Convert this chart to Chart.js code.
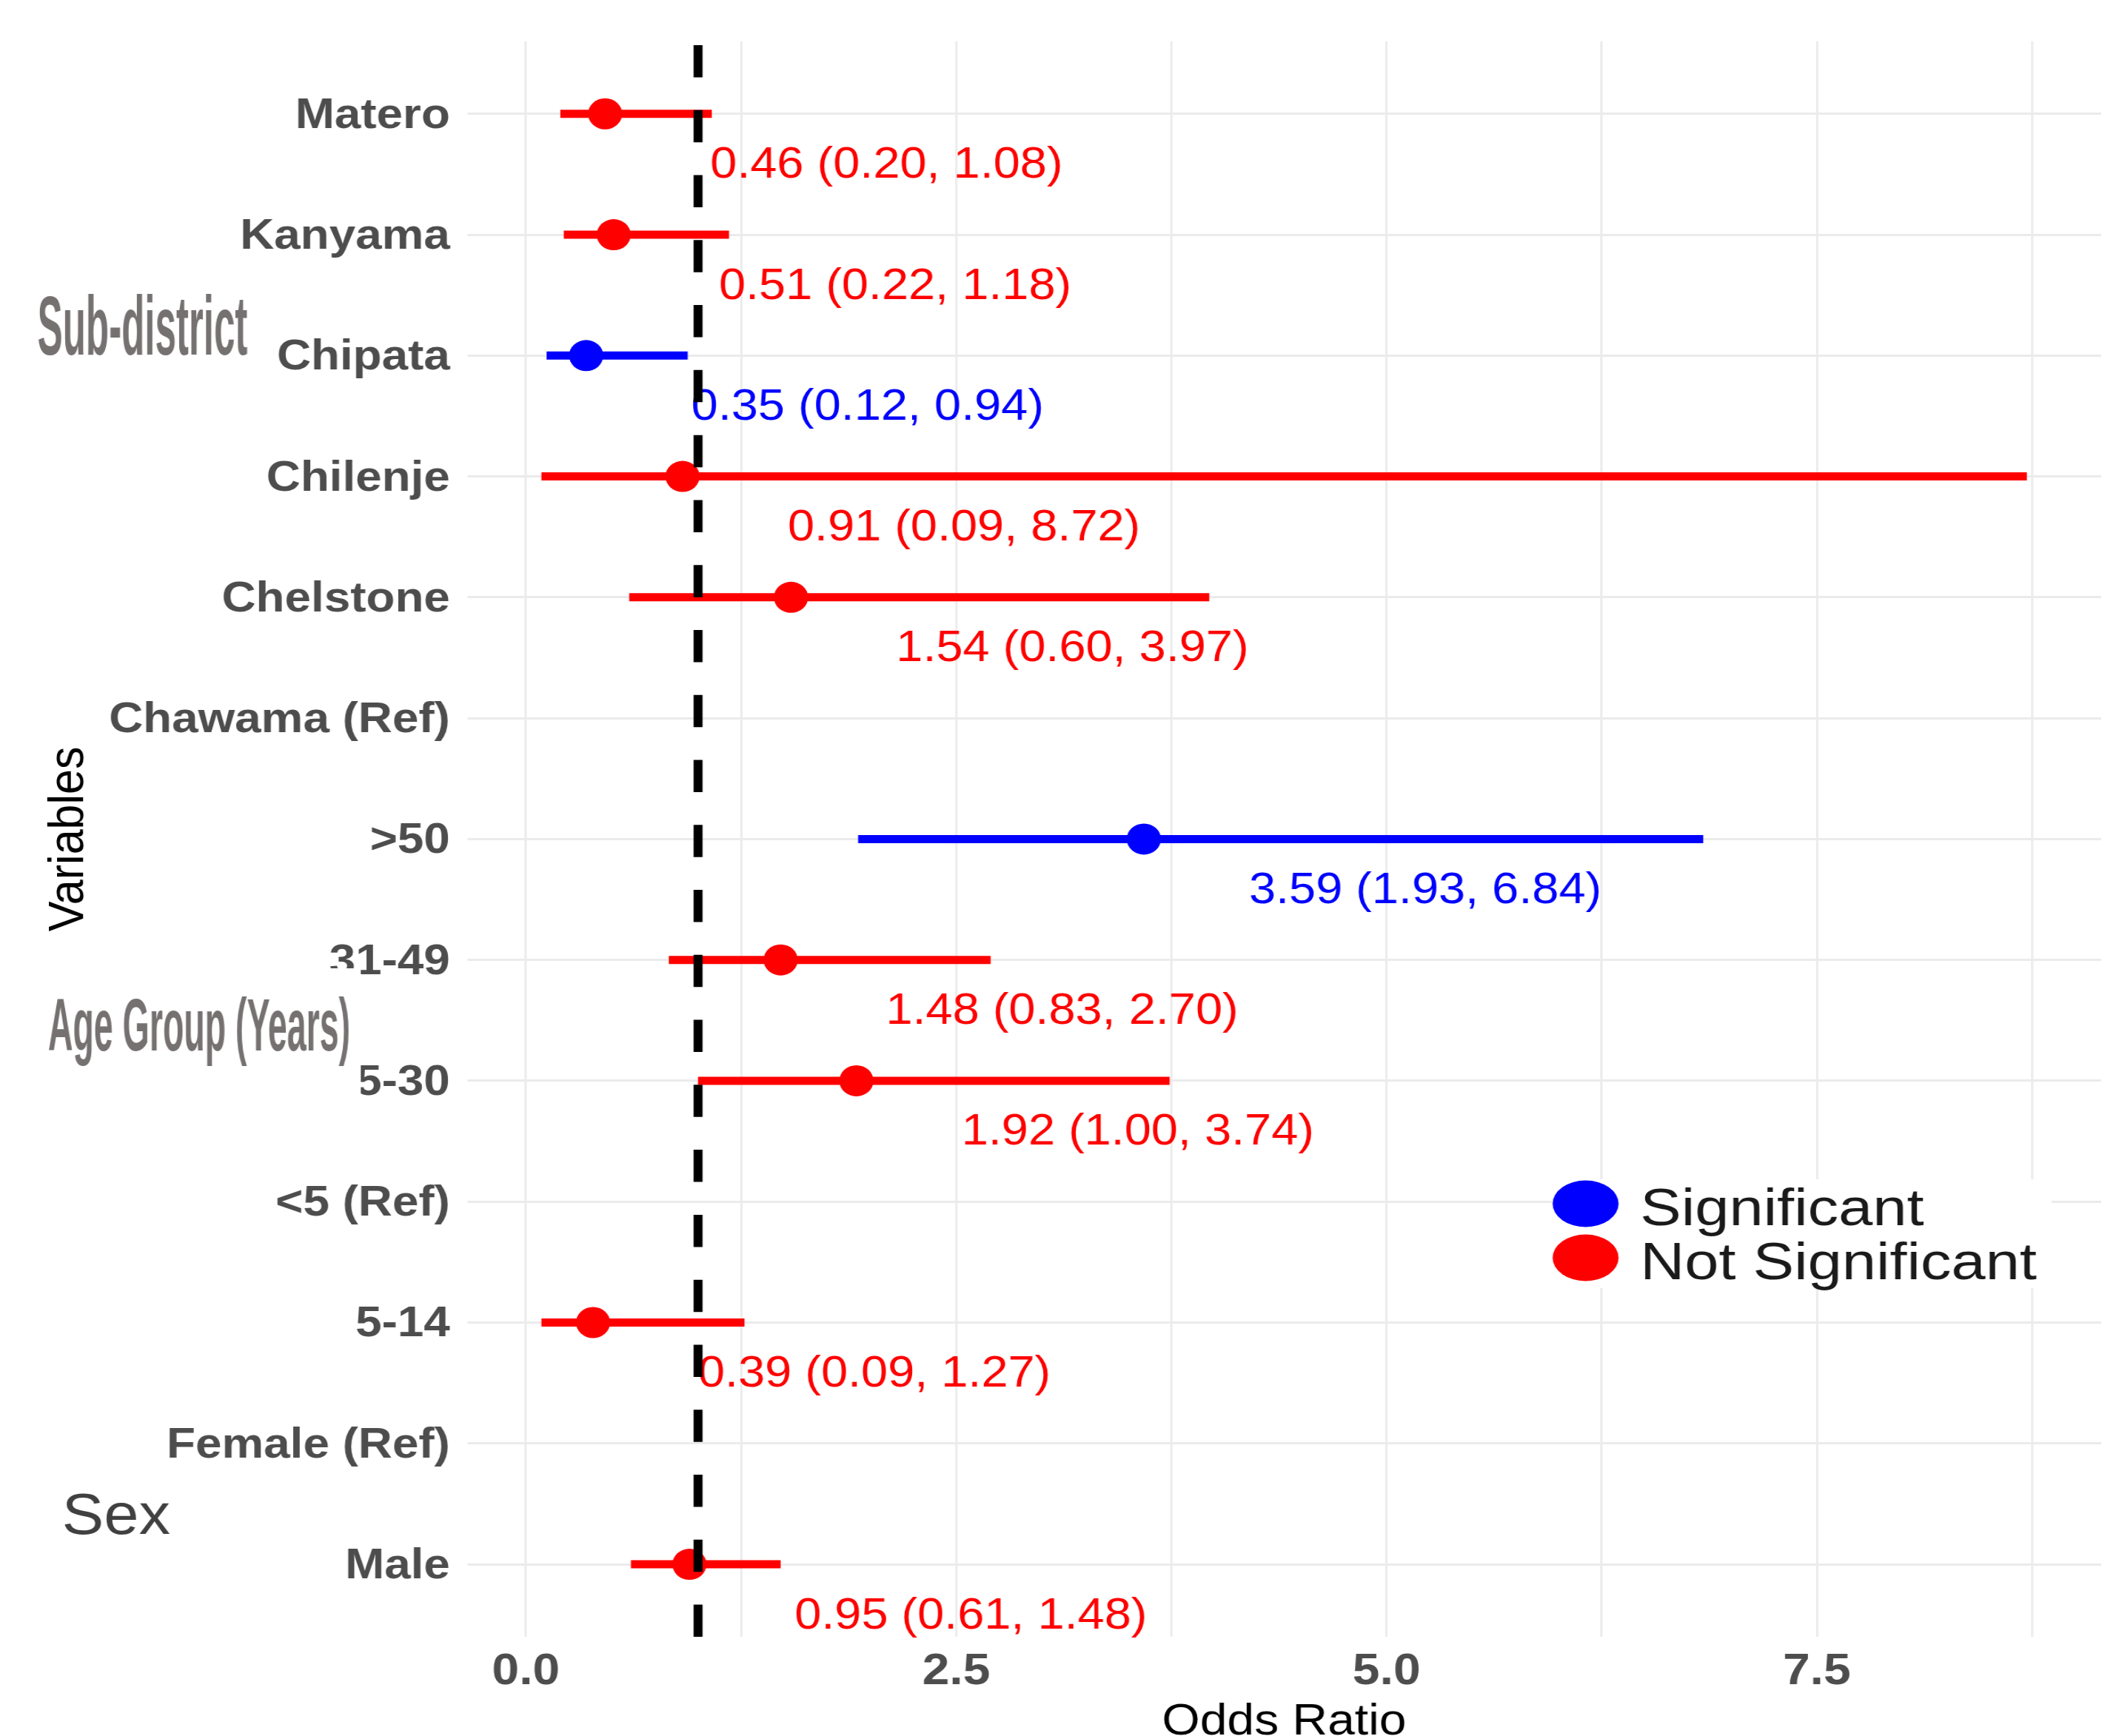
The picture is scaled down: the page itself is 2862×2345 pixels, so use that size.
<!DOCTYPE html>
<html>
<head>
<meta charset="utf-8">
<script src="https://cdn.jsdelivr.net/npm/chart.js@4.4.1/dist/chart.umd.min.js"></script>
<style>
  html, body { margin: 0; padding: 0; background: #ffffff; overflow: hidden; }
  #frame { width: 2862px; height: 2345px; overflow: hidden; position: relative; background: #ffffff; }
  #chart { display: block; }
</style>
</head>
<body>
<div id="frame">
  <canvas id="chart" width="2602" height="2400" style="width:2862px;height:2400px"></canvas>
</div>
<script>
// ---------------- data ----------------
const categories = ['Matero', 'Kanyama', 'Chipata', 'Chilenje', 'Chelstone', 'Chawama (Ref)',
  '>50', '31-49', '15-30', '<5 (Ref)', '5-14', 'Female (Ref)', 'Male'];
const oddsRatio = [0.46, 0.51, 0.35, 0.91, 1.54, null, 3.59, 1.48, 1.92, null, 0.39, null, 0.95];
const ciLower   = [0.20, 0.22, 0.12, 0.09, 0.60, null, 1.93, 0.83, 1.00, null, 0.09, null, 0.61];
const ciUpper   = [1.08, 1.18, 0.94, 8.72, 3.97, null, 6.84, 2.70, 3.74, null, 1.27, null, 1.48];
const isSignificant = [false, false, true, false, false, null, true, false, false, null, false, null, false];
const xTickValues = [0, 1.25, 2.5, 3.75, 5, 6.25, 7.5, 8.75];
const xTickLabels = ['0.0', '', '2.5', '', '5.0', '', '7.5', ''];
const legendLabels = ['Significant', 'Not Significant'];
const groupLabels = ['Sub-district', 'Age Group (Years)', 'Sex'];
const referenceOR = 1;
const xAxisTitle = 'Odds Ratio';
const yAxisTitle = 'Variables';

// ---------------- style ----------------
const FONT = "'Liberation Sans', Arial, Helvetica, sans-serif";
const SIG_COLOR = '#0000ff';
const NS_COLOR = '#ff0000';
const GRID = '#ebebeb';
const LABEL_NUDGE = 1.635;   // text label offset (data units) to the right of the estimate
const LABEL_DROP = 0.43;     // text label offset (rows) below the estimate

const lows = ciLower.filter(v => v != null), highs = ciUpper.filter(v => v != null);
const dMin = Math.min(...lows), dMax = Math.max(...highs);
const xMin = dMin - 0.05 * (dMax - dMin);
const xMax = dMax + 0.05 * (dMax - dMin);

// ---------------- datasets ----------------
const datasets = [];
categories.forEach((c, i) => {
  if (oddsRatio[i] == null) return;
  datasets.push({
    label: c + ' CI',
    data: [{ x: ciLower[i], y: i }, { x: ciUpper[i], y: i }],
    showLine: true,
    borderColor: isSignificant[i] ? SIG_COLOR : NS_COLOR,
    borderWidth: 11,
    borderCapStyle: 'butt',
    pointRadius: 0,
    pointHoverRadius: 0,
    fill: false,
    order: 3
  });
});
datasets.push({
  label: legendLabels[0],
  data: categories.map((c, i) => ({ i })).filter(o => isSignificant[o.i] === true)
    .map(o => ({ x: oddsRatio[o.i], y: o.i })),
  backgroundColor: SIG_COLOR,
  borderWidth: 0,
  pointRadius: 21,
  pointHoverRadius: 21,
  order: 1
});
datasets.push({
  label: legendLabels[1],
  data: categories.map((c, i) => ({ i })).filter(o => isSignificant[o.i] === false)
    .map(o => ({ x: oddsRatio[o.i], y: o.i })),
  backgroundColor: NS_COLOR,
  borderWidth: 0,
  pointRadius: 21,
  pointHoverRadius: 21,
  order: 1
});

// ---------------- overlay plugin ----------------
const overlayPlugin = {
  id: 'overlay',
  afterDatasetsDraw(chart) {
    const { ctx, chartArea } = chart;
    const xs = chart.scales.x, ys = chart.scales.y;
    ctx.save();
    // estimate labels
    ctx.font = `59px ${FONT}`;
    ctx.textAlign = 'center';
    ctx.textBaseline = 'middle';
    categories.forEach((c, i) => {
      if (oddsRatio[i] == null) return;
      ctx.fillStyle = isSignificant[i] ? SIG_COLOR : NS_COLOR;
      const txt = `${oddsRatio[i].toFixed(2)} (${ciLower[i].toFixed(2)}, ${ciUpper[i].toFixed(2)})`;
      ctx.fillText(txt, xs.getPixelForValue(oddsRatio[i] + LABEL_NUDGE), ys.getPixelForValue(i + LABEL_DROP));
    });
    // reference line
    const px = xs.getPixelForValue(referenceOR);
    ctx.beginPath();
    ctx.setLineDash([43.5, 44.27]);
    ctx.lineDashOffset = 0;
    ctx.lineWidth = 11;
    ctx.lineCap = 'butt';
    ctx.strokeStyle = '#000000';
    ctx.moveTo(px, chartArea.bottom);
    ctx.lineTo(px, chartArea.top);
    ctx.stroke();
    ctx.setLineDash([]);
    // legend
    const lx = 1906, ly = 1593, lw = 613, lh = 147;
    ctx.fillStyle = '#ffffff';
    ctx.fillRect(lx, ly, lw, lh);
    const legendDs = [chart.data.datasets.find(d => d.label === legendLabels[0]),
                      chart.data.datasets.find(d => d.label === legendLabels[1])];
    ctx.font = `70px ${FONT}`;
    const sx = 487 / ctx.measureText(legendLabels[1]).width;
    legendDs.forEach((d, k) => {
      const cy = 1626 + k * 73;
      ctx.fillStyle = d.backgroundColor;
      ctx.beginPath();
      ctx.ellipse(1947, cy, 40.5, 31.5, 0, 0, Math.PI * 2);
      ctx.fill();
      ctx.save();
      ctx.translate(2014, cy + 29);
      ctx.scale(sx, 1);
      ctx.fillStyle = '#1a1a1a';
      ctx.textAlign = 'left';
      ctx.textBaseline = 'alphabetic';
      ctx.fillText(d.label, 0, 0);
      ctx.restore();
    });
    ctx.restore();
  },
  afterDraw(chart) {
    const { ctx } = chart;
    const ys = chart.scales.y;
    ctx.save();
    ctx.textAlign = 'left';
    ctx.textBaseline = 'alphabetic';
    // white backing of the age-group caption
    ctx.fillStyle = '#ffffff';
    ctx.fillRect(36, 1308, 407, 182);
    const specs = [
      { text: groupLabels[0], x: 46, row: 1.99, font: `bold 113px ${FONT}`, width: 258, color: '#767171' },
      { text: groupLabels[1], x: 59, row: 7.75, font: `bold 100px ${FONT}`, width: 371, color: '#767171' },
      { text: groupLabels[2], x: 76, row: 11.75, font: `77px ${FONT}`, width: 133, color: '#404040' }
    ];
    specs.forEach(s => {
      ctx.font = s.font;
      const k = s.width / ctx.measureText(s.text).width;
      ctx.save();
      ctx.translate(s.x, ys.getPixelForValue(s.row));
      ctx.scale(k, 1);
      ctx.fillStyle = s.color;
      ctx.fillText(s.text, 0, 0);
      ctx.restore();
    });
    ctx.restore();
  }
};

// ---------------- chart ----------------
new Chart(document.getElementById('chart'), {
  type: 'scatter',
  data: { datasets },
  options: {
    responsive: false,
    animation: false,
    devicePixelRatio: 1,
    events: [],
    layout: { padding: { top: 49, left: 49, right: 22, bottom: 37.5 } },
    plugins: { legend: { display: false }, tooltip: { enabled: false } },
    scales: {
      x: {
        type: 'linear',
        min: xMin,
        max: xMax,
        afterBuildTicks: s => { s.ticks = xTickValues.map(v => ({ value: v })); },
        afterFit: s => { s.height = 151.5; },
        grid: { color: GRID, lineWidth: 2.7, drawTicks: false },
        border: { display: false },
        ticks: {
          autoSkip: false, maxRotation: 0, minRotation: 0, padding: 11.5,
          color: '#4d4d4d',
          font: { family: FONT, size: 60, weight: 'bold', lineHeight: 1.2 },
          callback: (v, i) => xTickLabels[i]
        },
        title: {
          display: true, text: xAxisTitle, color: '#000000',
          font: { family: FONT, size: 60, lineHeight: 1.2 },
          padding: { top: 0, bottom: 0 }
        }
      },
      y: {
        type: 'linear',
        reverse: true,
        min: -0.6,
        max: categories.length - 1 + 0.6,
        afterBuildTicks: s => { s.ticks = categories.map((c, i) => ({ value: i })); },
        afterFit: s => { s.width = 524.6; },
        grid: { color: GRID, lineWidth: 3, drawTicks: false },
        border: { display: false },
        ticks: {
          autoSkip: false, padding: 21, labelOffset: 3,
          color: '#4d4d4d',
          font: { family: FONT, size: 58, weight: 'bold', lineHeight: 1.2 },
          callback: v => categories[v]
        },
        title: {
          display: true, text: yAxisTitle, color: '#000000',
          font: { family: FONT, size: 61, lineHeight: 1.2 },
          padding: { top: 0, bottom: 0 }
        }
      }
    }
  },
  plugins: [overlayPlugin]
});
</script>
</body>
</html>
